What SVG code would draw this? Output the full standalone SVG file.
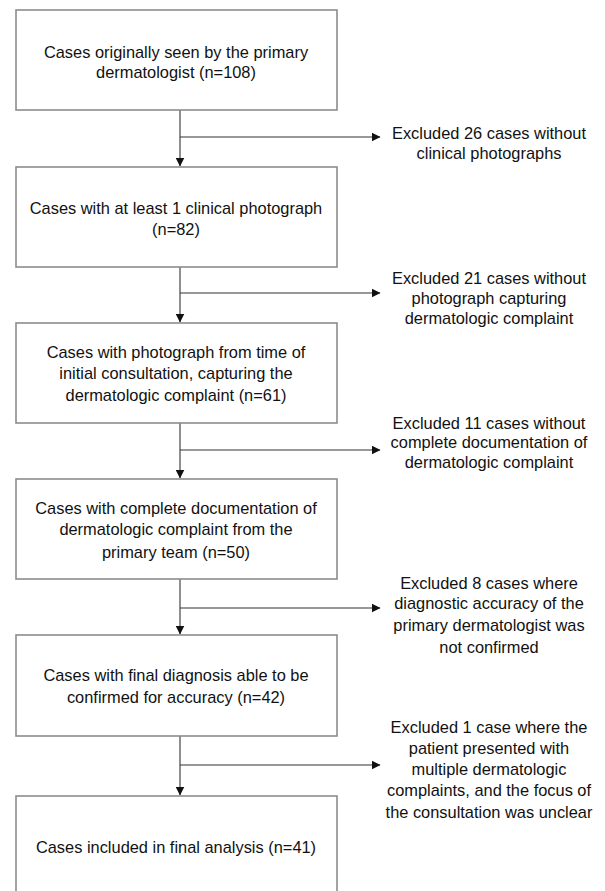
<svg xmlns="http://www.w3.org/2000/svg" width="605" height="891" viewBox="0 0 605 891">
<style>
.box{fill:#fff;stroke:#8c8c8c;stroke-width:1.6}
.t{font-family:"Liberation Sans",Arial,sans-serif;font-size:16.4px;fill:#111;text-anchor:middle}
.c{fill:none;stroke:#333;stroke-width:1.1}
</style>
<defs>
<marker id="ah" markerWidth="9" markerHeight="9" refX="8.5" refY="4.5" orient="auto" markerUnits="userSpaceOnUse">
<path d="M0,0 L9,4.5 L0,9 Z" fill="#111"/>
</marker>
</defs>
<rect width="605" height="891" fill="#fff"/>
<g id="connectors">
<path class="c" d="M180,110 V166" marker-end="url(#ah)"/>
<path class="c" d="M180,137 H380" marker-end="url(#ah)"/>
<path class="c" d="M180,267 V322" marker-end="url(#ah)"/>
<path class="c" d="M180,293 H380" marker-end="url(#ah)"/>
<path class="c" d="M180,423 V478" marker-end="url(#ah)"/>
<path class="c" d="M180,450 H380" marker-end="url(#ah)"/>
<path class="c" d="M180,579 V634" marker-end="url(#ah)"/>
<path class="c" d="M180,608 H380" marker-end="url(#ah)"/>
<path class="c" d="M180,736 V795" marker-end="url(#ah)"/>
<path class="c" d="M180,765 H380" marker-end="url(#ah)"/>
</g>
<g id="n1">
<rect class="box" x="16" y="10" width="321" height="100"/>
<text class="t" x="176" y="58">Cases originally seen by the primary</text>
<text class="t" x="176" y="78">dermatologist (n=108)</text>
</g>
<g id="n2">
<rect class="box" x="16" y="167" width="321" height="100"/>
<text class="t" x="176" y="214">Cases with at least 1 clinical photograph</text>
<text class="t" x="176" y="235">(n=82)</text>
</g>
<g id="n3">
<rect class="box" x="16" y="323" width="321" height="100"/>
<text class="t" x="176" y="358">Cases with photograph from time of</text>
<text class="t" x="176" y="379">initial consultation, capturing the</text>
<text class="t" x="176" y="401">dermatologic complaint (n=61)</text>
</g>
<g id="n4">
<rect class="box" x="16" y="479" width="321" height="100"/>
<text class="t" x="176" y="514">Cases with complete documentation of</text>
<text class="t" x="176" y="535">dermatologic complaint from the</text>
<text class="t" x="176" y="558">primary team (n=50)</text>
</g>
<g id="n5">
<rect class="box" x="16" y="635" width="321" height="101"/>
<text class="t" x="176" y="681">Cases with final diagnosis able to be</text>
<text class="t" x="176" y="703">confirmed for accuracy (n=42)</text>
</g>
<g id="n6">
<rect class="box" x="16" y="796" width="321" height="110"/>
<text class="t" x="176" y="853">Cases included in final analysis (n=41)</text>
</g>
<g id="e1">
<text class="t" x="489" y="139">Excluded 26 cases without</text>
<text class="t" x="489" y="159">clinical photographs</text>
</g>
<g id="e2">
<text class="t" x="489" y="284">Excluded 21 cases without</text>
<text class="t" x="489" y="304">photograph capturing</text>
<text class="t" x="489" y="324">dermatologic complaint</text>
</g>
<g id="e3">
<text class="t" x="489" y="429">Excluded 11 cases without</text>
<text class="t" x="489" y="448">complete documentation of</text>
<text class="t" x="489" y="468">dermatologic complaint</text>
</g>
<g id="e4">
<text class="t" x="489" y="589">Excluded 8 cases where</text>
<text class="t" x="489" y="609">diagnostic accuracy of the</text>
<text class="t" x="489" y="631">primary dermatologist was</text>
<text class="t" x="489" y="653">not confirmed</text>
</g>
<g id="e5">
<text class="t" x="489" y="733">Excluded 1 case where the</text>
<text class="t" x="489" y="754">patient presented with</text>
<text class="t" x="489" y="775">multiple dermatologic</text>
<text class="t" x="489" y="796">complaints, and the focus of</text>
<text class="t" x="489" y="818">the consultation was unclear</text>
</g>
</svg>
